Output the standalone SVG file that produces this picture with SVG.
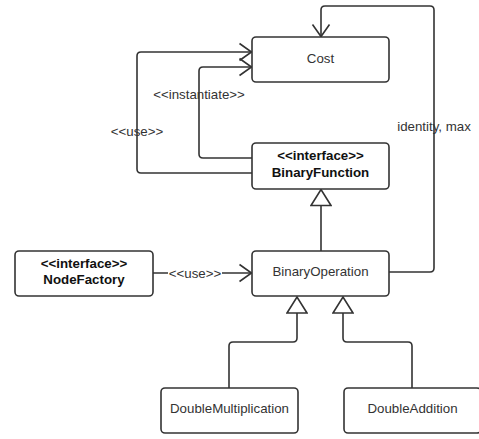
<svg xmlns="http://www.w3.org/2000/svg" width="479" height="439" viewBox="0 0 479 439">
<style>
.box{fill:#fff;stroke:#333;stroke-width:1.6}
.line{fill:none;stroke:#333;stroke-width:1.6;stroke-linejoin:round}
.t{font-family:"Liberation Sans",Arial,sans-serif;font-size:13.3px;fill:#333;text-anchor:middle}
.b{font-weight:bold;fill:#111}
.lbl{font-family:"Liberation Sans",Arial,sans-serif;font-size:13.3px;fill:#333;text-anchor:middle}
</style>
<defs>
<marker id="open" viewBox="0 0 14 20" refX="13" refY="10" markerWidth="14" markerHeight="20" markerUnits="userSpaceOnUse" orient="auto">
<path d="M1,1.5 L13,10 L1,18.5" fill="none" stroke="#333" stroke-width="1.6"/>
</marker>
<marker id="tri" viewBox="0 0 18 22" refX="17" refY="11" markerWidth="18" markerHeight="22" markerUnits="userSpaceOnUse" orient="auto">
<path d="M1,1 L17,11 L1,21 Z" fill="#fff" stroke="#333" stroke-width="1.6"/>
</marker>
</defs>
<g id="connectors">
<path class="line" d="M389,272 H430 Q434,272 434,268 V10 Q434,6 430,6 H325 Q321,6 321,10 V36.5" marker-end="url(#open)"/>
<path class="line" d="M252,173 H141 Q137,173 137,169 V56 Q137,52 141,52 H251.5" marker-end="url(#open)"/>
<path class="line" d="M252,158 H203 Q199,158 199,154 V71 Q199,67 203,67 H251.5" marker-end="url(#open)"/>
<path class="line" d="M321,251 V189.5" marker-end="url(#tri)"/>
<path class="line" d="M153,273 H251.5" marker-end="url(#open)"/>
<path class="line" d="M229,388 V346 Q229,342 233,342 H293 Q297,342 297,338 V297" marker-end="url(#tri)"/>
<path class="line" d="M412,388 V346 Q412,342 408,342 H347 Q343,342 343,338 V297" marker-end="url(#tri)"/>
<rect x="168" y="265" width="54" height="16" fill="#fff"/>
<text class="lbl" x="195" y="277.5">&lt;&lt;use&gt;&gt;</text>
<text class="lbl" x="199" y="99">&lt;&lt;instantiate&gt;&gt;</text>
<text class="lbl" x="137" y="136">&lt;&lt;use&gt;&gt;</text>
<text class="lbl" x="434" y="130.5">identity, max</text>
</g>
<g id="Cost">
<rect class="box" x="252" y="37" width="137" height="45" rx="4"/>
<text class="t" x="320.5" y="62.5">Cost</text>
</g>
<g id="BinaryFunction">
<rect class="box" x="252" y="143" width="137" height="46" rx="4"/>
<text class="t b" x="320.5" y="159.5">&lt;&lt;interface&gt;&gt;</text>
<text class="t b" x="320.5" y="176.5">BinaryFunction</text>
</g>
<g id="NodeFactory">
<rect class="box" x="15" y="251" width="138" height="45" rx="4"/>
<text class="t b" x="84" y="267.5">&lt;&lt;interface&gt;&gt;</text>
<text class="t b" x="84" y="284">NodeFactory</text>
</g>
<g id="BinaryOperation">
<rect class="box" x="252" y="251" width="137" height="45" rx="4"/>
<text class="t" x="320.5" y="276">BinaryOperation</text>
</g>
<g id="DoubleMultiplication">
<rect class="box" x="161" y="388" width="137" height="45" rx="4"/>
<text class="t" x="229.5" y="412.5">DoubleMultiplication</text>
</g>
<g id="DoubleAddition">
<rect class="box" x="344" y="388" width="137" height="45" rx="4"/>
<text class="t" x="412.5" y="412.5">DoubleAddition</text>
</g>
</svg>
